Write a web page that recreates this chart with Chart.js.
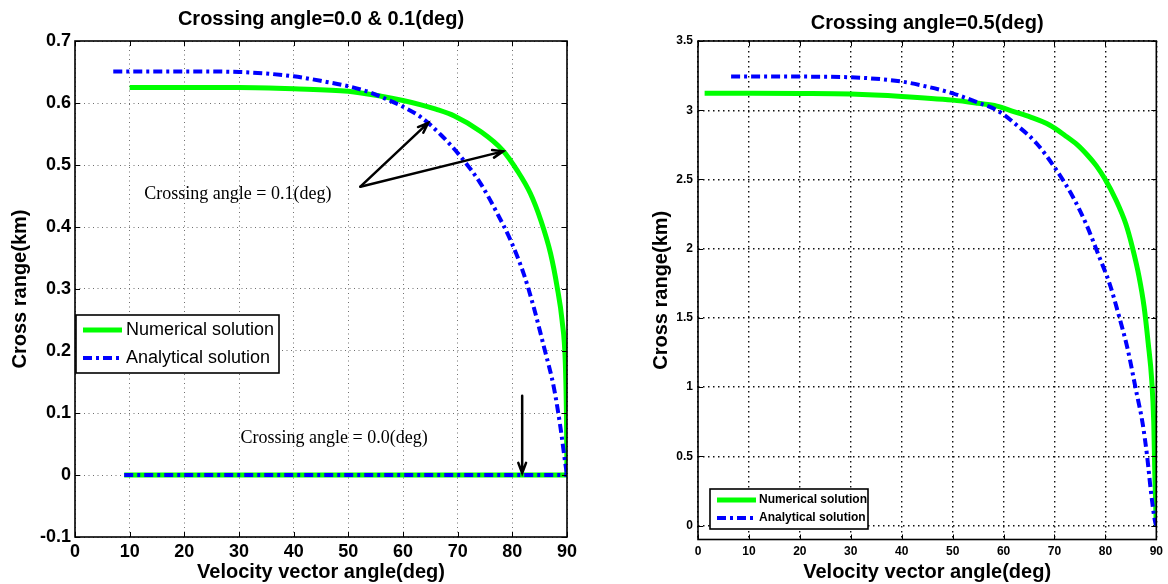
<!DOCTYPE html>
<html>
<head>
<meta charset="utf-8">
<title>Cross range vs velocity vector angle</title>
<script src="https://cdn.jsdelivr.net/npm/chart.js@4.4.1/dist/chart.umd.min.js"></script>
<style>
  html, body { margin: 0; padding: 0; background: #fff; }
  #wrap { position: relative; width: 1168px; height: 584px; overflow: hidden; }
  .panel { position: absolute; top: 0; }
  #panel-left { left: 0; }
  #panel-right { left: 640px; }
</style>
</head>
<body>
<div id="wrap">
  <div class="panel" id="panel-left"><canvas id="chart-left" width="600" height="584"></canvas></div>
  <div class="panel" id="panel-right"><canvas id="chart-right" width="528" height="584"></canvas></div>
</div>
<script>
// ============================================================
// Cross range vs. velocity vector angle, two crossing angles
// ============================================================

// ---- axis ticks ----
const xTicks = [0, 10, 20, 30, 40, 50, 60, 70, 80, 90];
const yTicksLeft = [-0.1, 0, 0.1, 0.2, 0.3, 0.4, 0.5, 0.6, 0.7];
const yTicksRight = [0, 0.5, 1, 1.5, 2, 2.5, 3, 3.5];

// ---- crossing angle 0.1 deg ----
const numAngle01 = [10, 20, 30, 40, 50, 56, 60, 63.3, 66, 69.4, 74.2, 78.2, 80.9, 83.3, 85.2, 87, 88.2, 89.1, 89.7, 89.9, 90];
const numRange01 = [0.625, 0.625, 0.625, 0.623, 0.619, 0.611, 0.604, 0.597, 0.59, 0.579, 0.554, 0.524, 0.491, 0.454, 0.411, 0.357, 0.303, 0.249, 0.179, 0.098, 0];
const anaAngle01 = [7, 20, 30, 40, 46, 50, 54, 57, 60, 63.3, 67, 70.6, 74.2, 77.3, 79.7, 82.1, 83.9, 85.8, 87.6, 88.8, 89.7, 90];
const anaRange01 = [0.651, 0.651, 0.65, 0.643, 0.634, 0.627, 0.617, 0.606, 0.594, 0.577, 0.548, 0.513, 0.47, 0.421, 0.378, 0.324, 0.271, 0.206, 0.141, 0.077, 0.018, 0];

// ---- crossing angle 0.0 deg ----
const numAngle00 = [9, 90];
const numRange00 = [0, 0];
const anaAngle00 = [9, 90];
const anaRange00 = [0, 0];

// ---- crossing angle 0.5 deg ----
const numAngle05 = [1.3, 10, 20, 30, 40, 50, 55, 58.7, 62, 65.2, 69.1, 72, 74.5, 76.5, 78.2, 79.8, 82.1, 84, 85.3, 86.6, 87.6, 88.4, 89.1, 89.5, 89.7, 90];
const numRange05 = [3.122, 3.122, 3.121, 3.117, 3.1, 3.073, 3.05, 3.03, 2.99, 2.952, 2.892, 2.82, 2.75, 2.675, 2.6, 2.51, 2.35, 2.18, 2.01, 1.8, 1.58, 1.32, 1.05, 0.74, 0.38, 0];
const anaAngle05 = [6.5, 20, 30, 40, 45, 50, 55, 58.7, 62.6, 66.5, 70.4, 73.6, 76.2, 78.8, 80.8, 82.7, 84.4, 86, 87.3, 88.2, 88.9, 89.7, 90];
const anaRange05 = [3.244, 3.243, 3.238, 3.207, 3.17, 3.122, 3.055, 3, 2.892, 2.76, 2.567, 2.375, 2.18, 1.94, 1.75, 1.51, 1.27, 0.98, 0.74, 0.5, 0.26, 0.04, 0];

const LABEL_NUM = "Numerical solution";
const LABEL_ANA = "Analytical solution";

const GREEN = "#00ff00";
const BLUE = "#0000ff";
const SANS = "'Liberation Sans', Arial, sans-serif";
const SERIF = "'Liberation Serif', 'Times New Roman', serif";

Chart.defaults.font.family = SANS;
Chart.defaults.color = "#000";

function toPoints(xs, ys) {
  return xs.map((x, i) => ({ x: x, y: ys[i] }));
}

function numericalSet(xs, ys, inLegend) {
  return {
    label: LABEL_NUM,
    data: toPoints(xs, ys),
    borderColor: GREEN,
    backgroundColor: GREEN,
    borderWidth: 5,
    pointRadius: 0,
    fill: false,
    cubicInterpolationMode: "monotone",
    order: 1,
    inLegend: inLegend,
  };
}

function analyticalSet(xs, ys, inLegend) {
  return {
    label: LABEL_ANA,
    data: toPoints(xs, ys),
    borderColor: BLUE,
    backgroundColor: BLUE,
    borderWidth: 4,
    borderDash: [9, 4, 3, 4],
    borderCapStyle: "butt",
    pointRadius: 0,
    fill: false,
    cubicInterpolationMode: "monotone",
    order: 0,
    inLegend: inLegend,
  };
}

// plot box and inward tick marks on all four sides
const framePlugin = {
  id: "frame",
  afterDraw(chart) {
    const { ctx, chartArea: a, scales } = chart;
    const len = 5;
    ctx.save();
    ctx.strokeStyle = "#000";
    ctx.lineWidth = 1;
    ctx.beginPath();
    scales.x.ticks.forEach((t) => {
      const px = Math.round(scales.x.getPixelForValue(t.value)) + 0.5;
      ctx.moveTo(px, a.bottom); ctx.lineTo(px, a.bottom - len);
      ctx.moveTo(px, a.top); ctx.lineTo(px, a.top + len);
    });
    scales.y.ticks.forEach((t) => {
      const py = Math.round(scales.y.getPixelForValue(t.value)) + 0.5;
      ctx.moveTo(a.left, py); ctx.lineTo(a.left + len, py);
      ctx.moveTo(a.right, py); ctx.lineTo(a.right - len, py);
    });
    ctx.stroke();
    ctx.lineWidth = 1.6;
    ctx.strokeRect(a.left, a.top, a.right - a.left, a.bottom - a.top);
    ctx.restore();
  },
};

// boxed legend sitting inside the plot
const boxLegendPlugin = {
  id: "boxLegend",
  afterDraw(chart, args, opts) {
    if (!opts || !opts.box) return;
    const { ctx } = chart;
    const b = opts.box;
    const items = chart.data.datasets.filter((d) => d.inLegend);
    ctx.save();
    ctx.fillStyle = "#fff";
    ctx.fillRect(b.left, b.top, b.width, b.height);
    ctx.strokeStyle = "#000";
    ctx.lineWidth = 1.6;
    ctx.strokeRect(b.left, b.top, b.width, b.height);
    ctx.font = opts.font;
    ctx.textBaseline = "middle";
    ctx.textAlign = "left";
    items.forEach((d, i) => {
      const y = opts.rows[i];
      ctx.save();
      ctx.strokeStyle = d.borderColor;
      ctx.lineWidth = d.borderWidth;
      ctx.lineCap = "butt";
      ctx.setLineDash(d.borderDash || []);
      ctx.beginPath();
      ctx.moveTo(opts.sample[0], y);
      ctx.lineTo(opts.sample[1], y);
      ctx.stroke();
      ctx.restore();
      ctx.fillStyle = "#000";
      ctx.fillText(d.label, opts.textX, y);
    });
    ctx.restore();
  },
};

// text notes and arrows placed in data units
const notesPlugin = {
  id: "notes",
  afterDatasetsDraw(chart, args, opts) {
    if (!opts || !opts.texts) return;
    const { ctx, scales } = chart;
    const px = (v) => scales.x.getPixelForValue(v);
    const py = (v) => scales.y.getPixelForValue(v);
    ctx.save();
    ctx.font = opts.font;
    ctx.fillStyle = "#000";
    ctx.textAlign = "center";
    ctx.textBaseline = "middle";
    opts.texts.forEach((t) => ctx.fillText(t.text, px(t.x), py(t.y)));
    ctx.strokeStyle = "#000";
    ctx.lineWidth = 2.5;
    ctx.lineCap = "round";
    (opts.arrows || []).forEach((ar) => {
      const x0 = px(ar.from[0]), y0 = py(ar.from[1]);
      const x1 = px(ar.to[0]), y1 = py(ar.to[1]);
      const ang = Math.atan2(y1 - y0, x1 - x0);
      const head = 11, spread = 0.36;
      ctx.beginPath();
      ctx.moveTo(x0, y0);
      ctx.lineTo(x1, y1);
      ctx.moveTo(x1 - head * Math.cos(ang - spread), y1 - head * Math.sin(ang - spread));
      ctx.lineTo(x1, y1);
      ctx.lineTo(x1 - head * Math.cos(ang + spread), y1 - head * Math.sin(ang + spread));
      ctx.stroke();
    });
    ctx.restore();
  },
};

function fixedTicks(values) {
  return (scale) => {
    scale.ticks = values.map((v) => ({ value: v }));
  };
}

function buildOptions(cfg) {
  return {
    responsive: false,
    animation: false,
    events: [],
    layout: { padding: { left: 0, right: cfg.padRight, top: 0, bottom: 0 } },
    plugins: {
      legend: { display: false },
      tooltip: { enabled: false },
      title: {
        display: true,
        text: cfg.title,
        fullSize: false,
        color: "#000",
        font: { size: 20, weight: "bold" },
        padding: cfg.titlePad,
      },
      boxLegend: cfg.legend,
      notes: cfg.notes || {},
    },
    scales: {
      x: {
        type: "linear",
        min: 0,
        max: 90,
        afterBuildTicks: fixedTicks(xTicks),
        afterFit: (s) => { s.height = cfg.xAxisHeight; },
        grid: { color: cfg.gridColor, lineWidth: cfg.gridWidth, drawTicks: false },
        border: { display: false, dash: cfg.gridDash },
        ticks: {
          autoSkip: false,
          maxRotation: 0,
          padding: cfg.tickPadX,
          color: "#000",
          font: { size: cfg.tickSize, weight: "bold" },
          callback: (v) => String(v),
        },
        title: {
          display: true,
          text: "Velocity vector angle(deg)",
          color: "#000",
          font: { size: 20, weight: "bold" },
          padding: { top: 0, bottom: 0 },
        },
      },
      y: {
        type: "linear",
        min: cfg.yMin,
        max: cfg.yMax,
        afterBuildTicks: fixedTicks(cfg.yTicks),
        afterFit: (s) => { s.width = cfg.yAxisWidth; },
        grid: { color: cfg.gridColor, lineWidth: cfg.gridWidth, drawTicks: false },
        border: { display: false, dash: cfg.gridDash },
        ticks: {
          autoSkip: false,
          padding: cfg.tickPadY,
          color: "#000",
          font: { size: cfg.tickSize, weight: "bold" },
          callback: (v) => String(v),
        },
        title: {
          display: true,
          text: "Cross range(km)",
          color: "#000",
          font: { size: 20, weight: "bold" },
          padding: { top: cfg.yTitlePad, bottom: 0 },
        },
      },
    },
  };
}

// ---- left panel: crossing angle 0.0 and 0.1 deg ----
new Chart(document.getElementById("chart-left"), {
  type: "line",
  data: {
    datasets: [
      numericalSet(numAngle01, numRange01, true),
      analyticalSet(anaAngle01, anaRange01, true),
      numericalSet(numAngle00, numRange00, false),
      analyticalSet(anaAngle00, anaRange00, false),
    ],
  },
  options: buildOptions({
    title: "Crossing angle=0.0 & 0.1(deg)",
    titlePad: { top: 7, bottom: 10 },
    padRight: 33,
    xAxisHeight: 47,
    yAxisWidth: 75,
    yMin: -0.1,
    yMax: 0.7,
    yTicks: yTicksLeft,
    tickSize: 18,
    tickPadX: 4,
    tickPadY: 4,
    yTitlePad: 8,
    gridColor: "#6f6f6f",
    gridWidth: 1,
    gridDash: [1, 3.5],
    legend: {
      box: { left: 76, top: 315, width: 203, height: 58 },
      rows: [330, 358],
      sample: [83, 122],
      textX: 126,
      font: "18px " + SANS,
    },
    notes: {
      font: "18px " + SERIF,
      texts: [
        { x: 29.8, y: 0.452, text: "Crossing angle = 0.1(deg)" },
        { x: 47.4, y: 0.059, text: "Crossing angle = 0.0(deg)" },
      ],
      arrows: [
        { from: [52.2, 0.465], to: [64.6, 0.568] },
        { from: [52.2, 0.465], to: [78.3, 0.522] },
        { from: [81.8, 0.128], to: [81.8, 0.003] },
      ],
    },
  }),
  plugins: [framePlugin, boxLegendPlugin, notesPlugin],
});

// ---- right panel: crossing angle 0.5 deg ----
new Chart(document.getElementById("chart-right"), {
  type: "line",
  data: {
    datasets: [
      numericalSet(numAngle05, numRange05, true),
      analyticalSet(anaAngle05, anaRange05, true),
    ],
  },
  options: buildOptions({
    title: "Crossing angle=0.5(deg)",
    titlePad: { top: 11, bottom: 6 },
    padRight: 7,
    xAxisHeight: 44.5,
    yAxisWidth: 58,
    yMin: -0.1,
    yMax: 3.5,
    yTicks: yTicksRight,
    tickSize: 12,
    tickPadX: 5,
    tickPadY: 5,
    yTitlePad: 9,
    gridColor: "#111",
    gridWidth: 1.4,
    gridDash: [1.5, 3.5],
    legend: {
      box: { left: 70, top: 489, width: 158, height: 40 },
      rows: [500, 518],
      sample: [77, 116],
      textX: 119,
      font: "bold 12px " + SANS,
    },
  }),
  plugins: [framePlugin, boxLegendPlugin],
});
</script>
</body>
</html>
